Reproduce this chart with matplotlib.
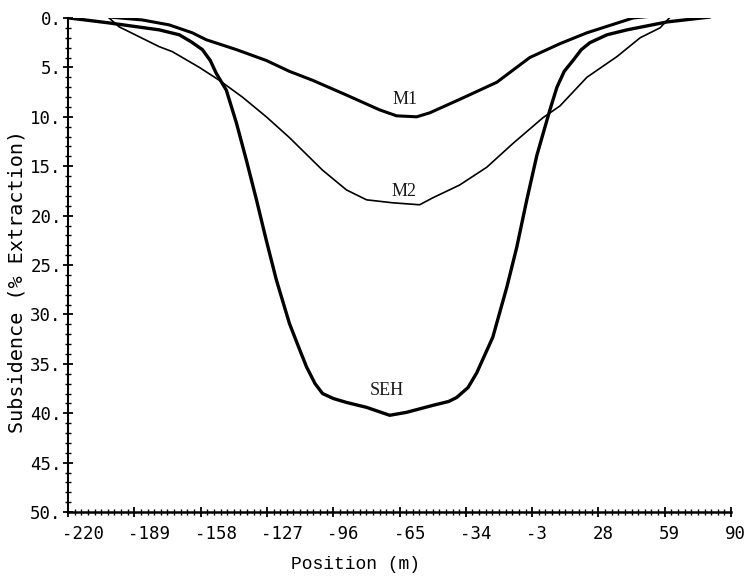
import matplotlib.pyplot as plt
import matplotlib.transforms as mtransforms
import numpy as np

# subsidence profiles (position in m, subsidence in % extraction)
seh_x = [-219.5, -200.8, -177.4, -168.0, -162.5, -157.2, -153.5, -150.7, -146.0, -141.3,
         -136.6, -131.9, -127.3, -122.6, -116.5, -112.0, -108.5, -104.5, -101.0, -96.0,
         -89.8, -80.4, -69.6, -61.7, -49.5, -42.0, -38.3, -33.0, -28.9, -21.4,
         -14.8, -10.2, -5.5, -0.8, 5.3, 8.6, 12.0, 16.1, 20.0, 24.0,
         32.0, 41.4, 60.1, 80.2]
seh_y = [0.0, 0.5, 1.2, 1.7, 2.4, 3.2, 4.3, 5.6, 7.3, 10.6,
         14.4, 18.4, 22.5, 26.5, 30.9, 33.4, 35.3, 37.0, 38.0, 38.5,
         38.9, 39.4, 40.2, 39.9, 39.2, 38.8, 38.4, 37.4, 35.9, 32.3,
         27.2, 23.2, 18.4, 13.9, 9.3, 7.0, 5.4, 4.3, 3.2, 2.5,
         1.7, 1.2, 0.4, -0.1]

m1_x = [-200.8, -185.3, -172.7, -161.9, -155.4, -141.3, -127.3, -116.5, -105.7, -89.8,
        -74.3, -66.4, -57.0, -50.9, -35.5, -19.5, -4.1, 10.0, 22.6, 44.2, 62.9]
m1_y = [-0.1, 0.2, 0.7, 1.5, 2.2, 3.2, 4.3, 5.4, 6.3, 7.8,
        9.3, 9.9, 10.0, 9.6, 8.1, 6.5, 4.0, 2.6, 1.5, 0.0, -0.4]

m2_x = [-200.8, -196.1, -191.4, -177.4, -171.3, -158.6, -149.3, -138.5, -127.3, -116.5,
        -111.8, -101.0, -89.8, -80.4, -68.2, -55.6, -49.5, -36.9, -24.2, -12.0,
        2.0, 10.0, 22.6, 36.7, 47.5, 56.8, 62.9]
m2_y = [0.0, 0.9, 1.4, 2.9, 3.4, 5.0, 6.3, 8.0, 10.0, 12.1,
        13.1, 15.4, 17.4, 18.4, 18.7, 18.9, 18.2, 16.9, 15.1, 12.7,
        10.1, 8.9, 6.0, 3.9, 2.0, 1.0, -0.4]

curve_labels = ['M1', 'M2', 'SEH']
label_x = [-62.6, -63.1, -71.0]
label_y = [8.2, 17.6, 37.7]

x_ticks = [-220, -189, -158, -127, -96, -65, -34, -3, 28, 59, 90]
y_ticks = [0, 5, 10, 15, 20, 25, 30, 35, 40, 45, 50]

fig = plt.figure(figsize=(7.56, 5.80), dpi=100)
ax = fig.add_axes([0.090, 0.117, 0.877, 0.852])

ax.plot(seh_x, seh_y, color='black', lw=2.4, solid_capstyle='round', solid_joinstyle='round')
ax.plot(m1_x, m1_y, color='black', lw=2.2, solid_capstyle='round', solid_joinstyle='round')
ax.plot(m2_x, m2_y, color='black', lw=1.2, solid_capstyle='round', solid_joinstyle='round')

for txt, lx, ly in zip(curve_labels, label_x, label_y):
    ax.text(lx, ly, txt, ha='center', va='center', fontsize=13,
            family='Liberation Serif', color='#1a1a1a')

ax.set_xlim(-220, 90)
ax.set_ylim(50, 0)
ax.spines['top'].set_visible(False)
ax.spines['right'].set_visible(False)
ax.spines['left'].set_linewidth(1.5)
ax.spines['bottom'].set_linewidth(1.8)

ax.set_xticks(x_ticks)
ax.set_xticks(np.arange(-220, 90.01, 3.1), minor=True)
ax.set_xticklabels([str(v) for v in x_ticks])
ax.set_yticks(y_ticks)
ax.set_yticks(np.arange(0, 51, 1), minor=True)
ax.set_yticklabels([f'{v}.' for v in y_ticks])

ax.tick_params(axis='both', which='major', direction='inout', length=7, width=1.3,
               labelsize=12.5)
ax.tick_params(axis='both', which='minor', direction='inout', length=5, width=1.0)
ax.tick_params(axis='x', which='major', pad=6)
ax.tick_params(axis='y', which='major', pad=1)

for lbl in ax.get_xticklabels() + ax.get_yticklabels():
    lbl.set_family('DejaVu Sans Mono')

# tick labels on x are left-aligned just before the tick
offset = mtransforms.ScaledTranslation(-6 / 100, 0, fig.dpi_scale_trans)
for lbl in ax.get_xticklabels():
    lbl.set_horizontalalignment('left')
    lbl.set_transform(lbl.get_transform() + offset)

ax.set_xlabel('Position (m)', family='Liberation Mono', fontsize=13)
ax.xaxis.set_label_coords(0.434, -0.088)
ax.set_ylabel('Subsidence (% Extraction)', family='DejaVu Sans Mono', fontsize=14.5)
ax.yaxis.set_label_coords(-0.062, 0.466)

fig.savefig('out.png', dpi=100)
